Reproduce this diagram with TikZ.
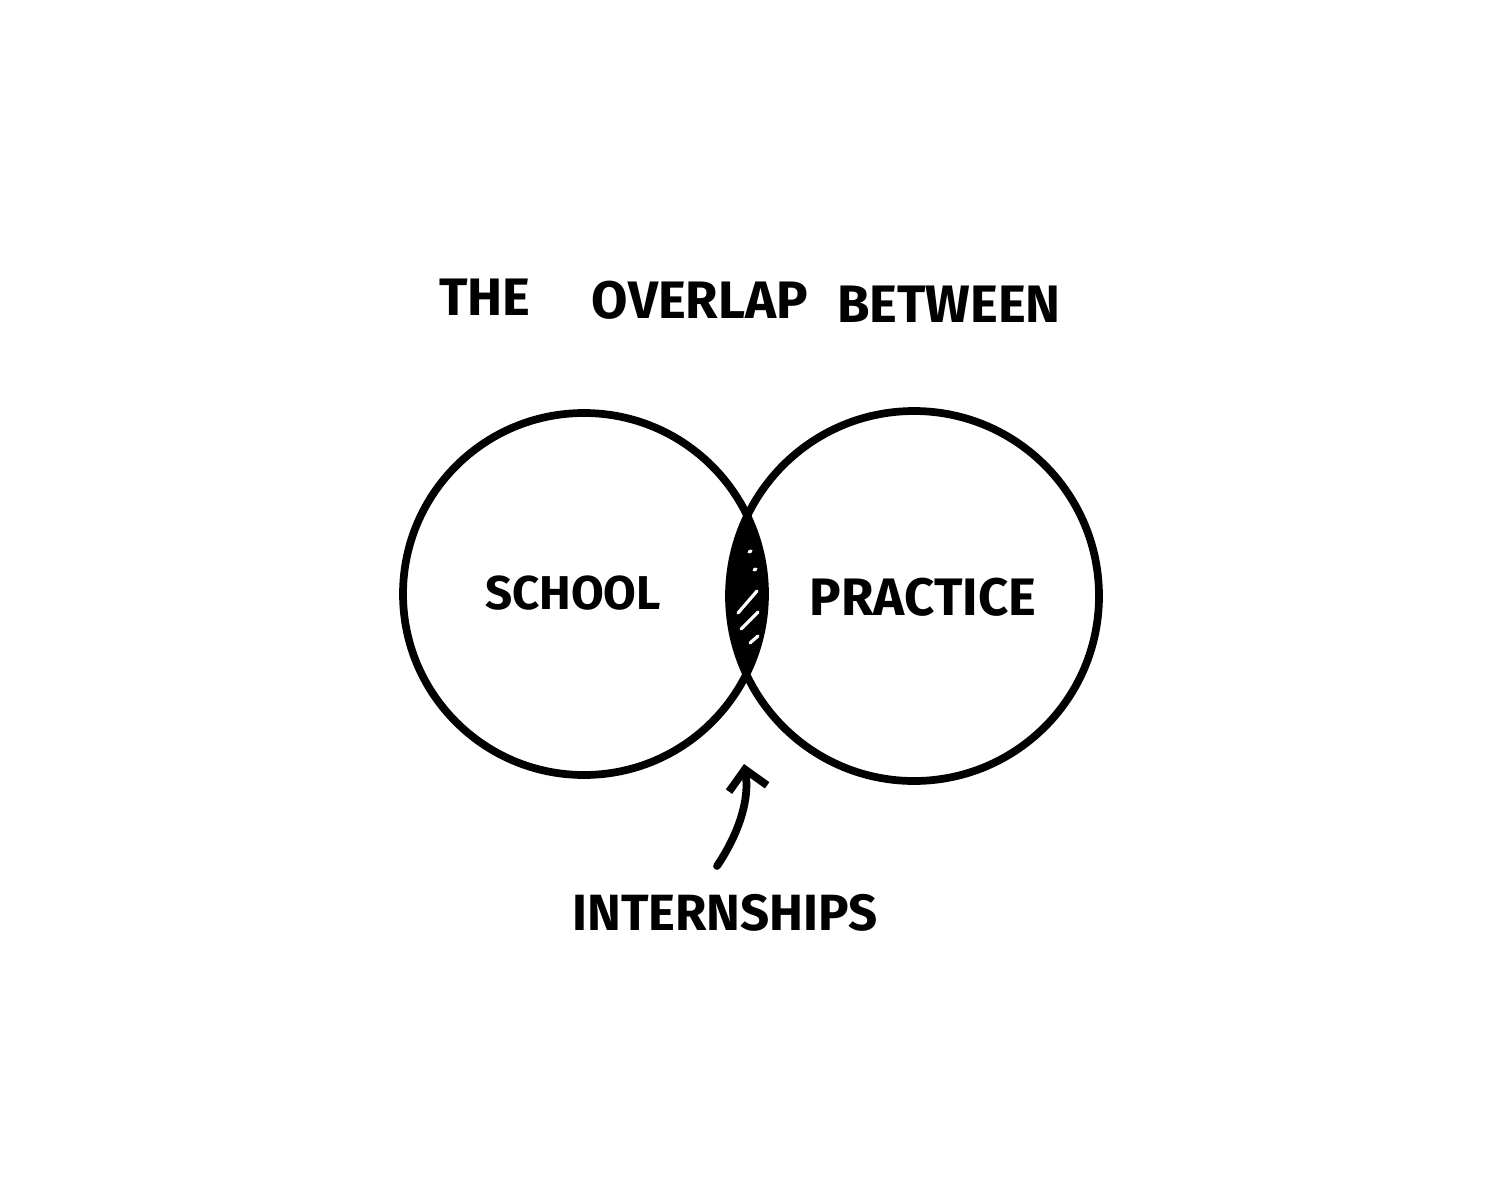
\documentclass[tikz,border=0pt]{standalone}
\usepackage{fontspec}
\setmainfont{Fira Sans}
\usetikzlibrary{arrows.meta}
\begin{document}
\begin{tikzpicture}[x=0.02cm,y=-0.02cm,
  ink/.style={line width=4.4pt,line cap=round,line join=round},
  hand/.style={font=\fontsize{#1}{#1}\selectfont\bfseries,inner sep=0pt,anchor=center},
  hand/.default=27,
  hatch/.style={white,line width=1.8pt,line cap=round}]
\useasboundingbox[fill=white] (0,0) rectangle (1500,1200);
% circles
\coordinate (cS) at (584,594);
\coordinate (cP) at (914,596);
\begin{scope}
  \clip (cS) circle[radius=181];
  \fill[black] (cP) circle[radius=185];
\end{scope}
\draw[ink] (cS) circle[radius=181];
\draw[ink] (cP) circle[radius=185];
% white hatch marks in the overlap
\draw[hatch] (749,552) -- (751,551);
\draw[hatch] (754,570) -- (756,569);
\draw[hatch] (738,613) -- (757,591);
\draw[hatch] (741,629) -- (758,612);
\draw[hatch] (750,643) -- (758,636);
% texts
\node[hand=30] (the) at (485,297) {THE};
\node[hand=30] (overlap) at (700,300) {OVERLAP};
\node[hand=30] (between) at (949,304) {BETWEEN};
\node[hand=27] (school) at (573,593) {SCHOOL};
\node[hand=30] (practice) at (923,597) {PRACTICE};
\node[hand=29] (intern) at (725,913) {INTERNSHIPS};
% arrow
\coordinate (a0) at (717,866);
\coordinate (a1) at (744,764);
\draw[ink,-{Straight Barb[length=11pt,width=22pt,line width=4.4pt]}] (a0) .. controls (738,835) and (750,800) .. (a1);
\end{tikzpicture}
\end{document}
